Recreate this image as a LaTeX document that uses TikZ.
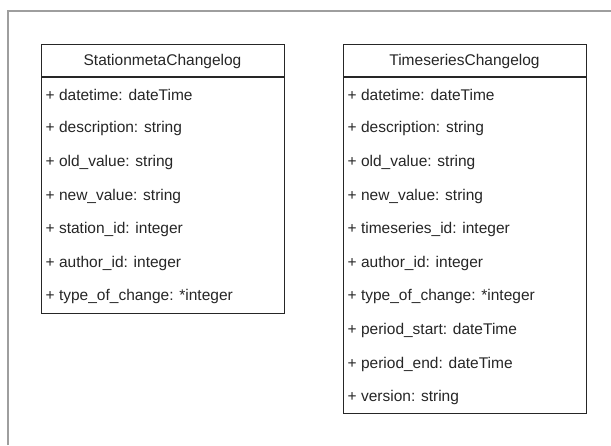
\documentclass[tikz,border=0pt]{standalone}
\usepackage{fontspec}
\setmainfont{Liberation Sans}
\begin{document}
\begin{tikzpicture}[x=1pt,y=-1pt,
  boxline/.style={draw=black!85, line width=1.1pt},
  frameline/.style={draw=black!38, line width=1.4pt},
  hdr/.style={inner sep=0pt, anchor=center, font=\fontsize{15.5}{18}\selectfont, text=black!85},
  attr/.style={inner sep=0pt, anchor=west, font=\fontsize{15.5}{18}\selectfont, text=black!85}]
\useasboundingbox (0,0) rectangle (611,445);
\fill[white] (0,0) rectangle (611,445);
% outer frame
\coordinate (fbl) at (8,445);
\coordinate (ftl) at (8,11);
\coordinate (ftr) at (611,11);
\draw[frameline] (fbl) -- (ftl) -- (ftr);
% box 1
\def\rh{33.6}
\node[boxline, minimum width=243pt, minimum height=269pt, inner sep=0pt, anchor=north west] (b1) at (41,44) {};
\coordinate (b1sl) at (41,77);
\coordinate (b1sr) at (284,77);
\draw[boxline] (b1sl) -- (b1sr);
\node[hdr] (b1h) at (162.5,61) {StationmetaChangelog};
\foreach \t [count=\i] in {{+ datetime: dateTime},{+ description: string},{+ old\_value: string},{+ new\_value: string},{+ station\_id: integer},{+ author\_id: integer},{+ type\_of\_change: *integer}} {
  \node[attr] (b1a\i) at (45.5,{77+(\i-0.5)*\rh+1.5}) {\t};
}
% box 2
\node[boxline, minimum width=243pt, minimum height=369pt, inner sep=0pt, anchor=north west] (b2) at (343,44) {};
\coordinate (b2sl) at (343,77);
\coordinate (b2sr) at (586,77);
\draw[boxline] (b2sl) -- (b2sr);
\node[hdr] (b2h) at (464.5,61) {TimeseriesChangelog};
\foreach \t [count=\i] in {{+ datetime: dateTime},{+ description: string},{+ old\_value: string},{+ new\_value: string},{+ timeseries\_id: integer},{+ author\_id: integer},{+ type\_of\_change: *integer},{+ period\_start: dateTime},{+ period\_end: dateTime},{+ version: string}} {
  \node[attr] (b2a\i) at (347.5,{77+(\i-0.5)*\rh+1.5}) {\t};
}
\end{tikzpicture}
\end{document}
